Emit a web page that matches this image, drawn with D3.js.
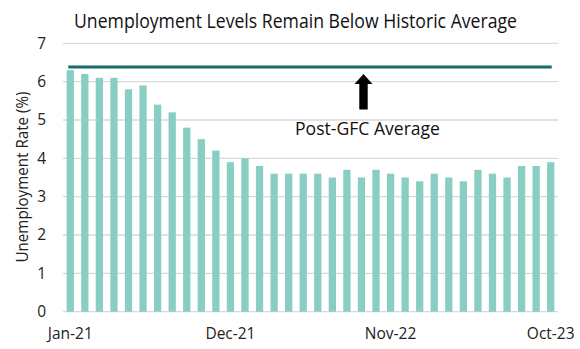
<!DOCTYPE html>
<html><head><meta charset="utf-8">
<script src="https://cdn.jsdelivr.net/npm/d3@7"></script>
<style>body{margin:0;background:#fff}svg{display:block;font-family:"Open Sans",sans-serif}</style>
</head><body>
<svg id="c" width="580" height="349"></svg>
<script>
const months = ["Jan-21","Feb-21","Mar-21","Apr-21","May-21","Jun-21","Jul-21","Aug-21","Sep-21","Oct-21","Nov-21","Dec-21",
"Jan-22","Feb-22","Mar-22","Apr-22","May-22","Jun-22","Jul-22","Aug-22","Sep-22","Oct-22","Nov-22","Dec-22",
"Jan-23","Feb-23","Mar-23","Apr-23","May-23","Jun-23","Jul-23","Aug-23","Sep-23","Oct-23"];
const rates = [6.3,6.2,6.1,6.1,5.8,5.9,5.4,5.2,4.8,4.5,4.2,3.9,
4.0,3.8,3.6,3.6,3.6,3.6,3.5,3.7,3.5,3.7,3.6,3.5,
3.4,3.6,3.5,3.4,3.7,3.6,3.5,3.8,3.8,3.9];
const postGfcAverage = 6.38;
const xTickLabels = ["Jan-21","Dec-21","Nov-22","Oct-23"];
const yTicks = [0,1,2,3,4,5,6,7];
const title = "Unemployment Levels Remain Below Historic Average";
const yTitle = "Unemployment Rate (%)";
const avgLabel = "Post-GFC Average";

const svg = d3.select("#c");
const pL = 63, pR = 558, pT = 43.3, pB = 311.7;
const x = d3.scaleBand().domain(months).range([pL, pR]).paddingInner(0.5).paddingOuter(0.25);
const y = d3.scaleLinear().domain([0,7]).range([pB, pT]);

// gridlines
svg.append("g").selectAll("line").data(yTicks).join("line")
  .attr("x1", pL).attr("x2", pR)
  .attr("y1", d => y(d)).attr("y2", d => y(d))
  .attr("stroke", "#d9d9d9").attr("stroke-width", 1.3);

// y axis labels
const yAxis = d3.axisLeft(y).tickValues(yTicks).tickSize(0).tickPadding(0).tickFormat(d3.format("d"));
const ya = svg.append("g").attr("transform", `translate(${pL-17},0)`).call(yAxis);
ya.select(".domain").remove();
ya.selectAll("text").attr("font-size", 15.5).attr("fill", "#222").attr("font-family", "Open Sans");

// bars
svg.append("g").selectAll("rect").data(rates).join("rect")
  .attr("x", (d,i) => x(months[i]))
  .attr("width", x.bandwidth())
  .attr("y", d => y(d))
  .attr("height", d => y(0) - y(d))
  .attr("fill", "#88cec2");

// average line
const half = x.bandwidth()/2;
svg.append("line")
  .attr("x1", x(months[0]) + half - 2).attr("x2", x(months[months.length-1]) + half + 1)
  .attr("y1", y(postGfcAverage)).attr("y2", y(postGfcAverage))
  .attr("stroke", "#156e68").attr("stroke-width", 3);

// x axis labels
const xAxis = d3.axisBottom(x).tickValues(xTickLabels).tickSize(0).tickPadding(0);
const xa = svg.append("g").attr("transform", `translate(0,${pB+16})`).call(xAxis);
xa.select(".domain").remove();
xa.selectAll("text").attr("font-size", 15.5).attr("fill", "#222").attr("font-family", "Open Sans").attr("dy", "0.71em");

// title
svg.append("text").attr("x", 74).attr("y", 27.5)
  .attr("font-size", 20).attr("fill", "#111")
  .attr("textLength", 443).attr("lengthAdjust", "spacingAndGlyphs").text(title);

// y title
svg.append("text").attr("transform", `translate(28,177) rotate(-90)`)
  .attr("text-anchor", "middle").attr("font-size", 15.5).attr("fill", "#222")
  .attr("textLength", 171).attr("lengthAdjust", "spacingAndGlyphs").text(yTitle);

// arrow
const ax = 363.5, tipY = 74, headY = 84, baseY = 109.5;
svg.append("path")
  .attr("d", `M${ax},${tipY} L${ax+9},${headY} L${ax+4.2},${headY} L${ax+4.2},${baseY} L${ax-4.2},${baseY} L${ax-4.2},${headY} L${ax-9},${headY} Z`)
  .attr("fill", "#000");

// avg label
svg.append("text").attr("x", 295).attr("y", 135).attr("font-size", 17.5).attr("fill", "#111")
  .attr("textLength", 145).attr("lengthAdjust", "spacingAndGlyphs").text(avgLabel);
</script>
</body></html>
